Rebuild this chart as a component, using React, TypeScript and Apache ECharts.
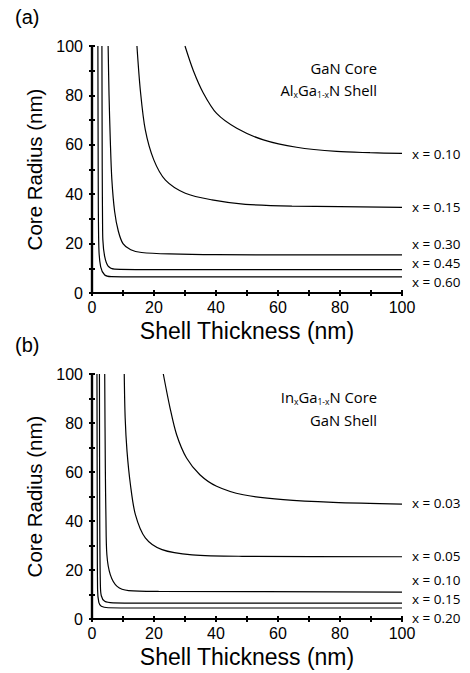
import React, { useEffect, useRef } from "react";
import * as echarts from "echarts";

// Panel (a): GaN core / AlxGa1-xN shell  [shell thickness (nm), core radius (nm)]
const a010 = [[30, 100], [32.7, 90], [35.9, 81], [40.2, 72.7], [46.7, 66.7], [55.3, 62], [66, 59], [78.9, 57.3], [89.7, 56.8], [100, 56.5]];
const a015 = [[14.5, 100], [15.6, 82], [17.2, 66], [19.9, 54], [23.7, 45.7], [30.1, 40.4], [38.7, 37.7], [49.5, 35.9], [64.5, 35.2], [100, 34.7]];
const a030 = [[5.2, 100], [5.5, 80], [5.9, 62], [6.4, 46], [7.3, 33], [8.5, 25], [10, 20], [12.5, 17.5], [16, 16.4], [25, 15.8], [40, 15.5], [100, 15.4]];
const a045 = [[3.2, 100], [3.3, 50], [3.4, 30], [3.5, 21.5], [4.1, 14.7], [5.2, 10.9], [7.3, 9.7], [17.5, 9.5], [100, 9.5]];
const a060 = [[1.9, 100], [2.0, 50], [2.2, 18.7], [2.8, 10.6], [4.1, 7.3], [6.2, 6.6], [15, 6.5], [100, 6.5]];

// Panel (b): InxGa1-xN core / GaN shell
const b003 = [[23, 100], [25.2, 86], [27.3, 75.2], [30.5, 65.7], [34.8, 58.9], [40.2, 54.2], [48.8, 50.7], [61.7, 48.7], [77.8, 47.6], [100, 46.9]];
const b005 = [[10.4, 100], [10.7, 82], [11.3, 68.4], [12.4, 54.8], [14, 42.6], [17.2, 33.1], [22.6, 28.3], [32.3, 26.2], [48.4, 25.6], [100, 25.4]];
const b010 = [[4.1, 100], [4.3, 61.6], [4.5, 41.2], [4.8, 26.2], [5.9, 18.1], [8.1, 13.3], [11.8, 11.6], [21.5, 11.3], [100, 11]];
const b015 = [[2.4, 100], [2.5, 40], [2.7, 14], [3.0, 9.5], [4.1, 7.2], [6.8, 6.6], [20, 6.5], [100, 6.5]];
const b020 = [[1.6, 100], [1.7, 40], [1.8, 12], [2.2, 6.8], [3, 5.2], [5.2, 4.6], [20, 4.5], [100, 4.5]];

const labelsA = ["x = 0.10", "x = 0.15", "x = 0.30", "x = 0.45", "x = 0.60"];
const labelsB = ["x = 0.03", "x = 0.05", "x = 0.10", "x = 0.15", "x = 0.20"];

const xTitle = "Shell Thickness (nm)";
const yTitle = "Core Radius (nm)";

export default function App() {
  const ref = useRef<HTMLDivElement>(null);
  useEffect(() => {
    if (!ref.current) return;
    const chart = echarts.init(ref.current, null, { renderer: "svg" });
    const axisFont = "Liberation Sans";
    const annFont = "Open Sans";
    const grids = [
      { left: 92, top: 46, width: 310, height: 247 },
      { left: 92, top: 374, width: 310, height: 245 },
    ];
    const tickStyle = {
      show: true,
      inside: true,
      length: 3,
      lineStyle: { color: "#000", width: 2 },
    };
    const minorStyle = {
      show: true,
      splitNumber: 2,
      length: 3,
      lineStyle: { color: "#000", width: 2 },
    };
    const mainX = (gi: number) => ({
      type: "value",
      gridIndex: gi,
      min: 0,
      max: 100,
      interval: 20,
      position: "bottom",
      name: xTitle,
      nameLocation: "middle",
      nameGap: 26,
      nameTextStyle: { fontFamily: axisFont, fontSize: 23, color: "#000" },
      axisLine: { show: true, lineStyle: { color: "#000", width: 2.2 } },
      axisTick: tickStyle,
      minorTick: minorStyle,
      axisLabel: { fontFamily: axisFont, fontSize: 16, color: "#000", margin: 6 },
      splitLine: { show: false },
    });
    const mainY = (gi: number) => ({
      type: "value",
      gridIndex: gi,
      min: 0,
      max: 100,
      interval: 20,
      position: "left",
      name: yTitle,
      nameLocation: "middle",
      nameGap: 33,
      nameTextStyle: { fontFamily: axisFont, fontSize: 20.5, color: "#000" },
      axisLine: { show: true, lineStyle: { color: "#000", width: 2.2 } },
      axisTick: tickStyle,
      minorTick: minorStyle,
      axisLabel: { fontFamily: axisFont, fontSize: 16, color: "#000", margin: 9 },
      splitLine: { show: false },
    });
    const sideAxis = (gi: number, pos: string) => ({
      type: "value",
      gridIndex: gi,
      min: 0,
      max: 100,
      interval: 20,
      position: pos,
      axisLine: { show: true, lineStyle: { color: "#000", width: 2.2 } },
      axisTick: tickStyle,
      minorTick: minorStyle,
      axisLabel: { show: false },
      splitLine: { show: false },
    });
    const mk = (data: number[][], xi: number, yi: number) => ({
      type: "line",
      xAxisIndex: xi,
      yAxisIndex: yi,
      data,
      showSymbol: false,
      symbol: "none",
      smooth: 0.3,
      clip: true,
      lineStyle: { color: "#000", width: 1.2 },
      silent: true,
    });
    const rLabel = (text: string, y: number) => ({
      type: "text",
      x: 412,
      y,
      style: {
        text,
        font: `13.5px "${annFont}"`,
        fill: "#000",
        textAlign: "left",
        textVerticalAlign: "middle",
      },
    });
    const yA = [154, 207, 244, 263, 282];
    const yB = [503, 556, 580, 599, 618];
    const rich = {
      n: { fontFamily: annFont, fontSize: 14.8, color: "#000", lineHeight: 18 },
      s: { fontFamily: annFont, fontSize: 8.5, color: "#000", verticalAlign: "bottom", lineHeight: 8 },
    };
    const ann = (text: string, y: number) => ({
      type: "text",
      x: 377,
      y,
      style: {
        text,
        rich,
        fill: "#000",
        textAlign: "right",
        textVerticalAlign: "middle",
      },
    });
    chart.setOption({
      animation: false,
      backgroundColor: "#fff",
      grid: grids,
      xAxis: [mainX(0), sideAxis(0, "top"), mainX(1), sideAxis(1, "top")],
      yAxis: [mainY(0), sideAxis(0, "right"), mainY(1), sideAxis(1, "right")],
      series: [
        mk(a010, 0, 0),
        mk(a015, 0, 0),
        mk(a030, 0, 0),
        mk(a045, 0, 0),
        mk(a060, 0, 0),
        mk(b003, 2, 2),
        mk(b005, 2, 2),
        mk(b010, 2, 2),
        mk(b015, 2, 2),
        mk(b020, 2, 2),
      ],
      graphic: [
        {
          type: "text",
          x: 15,
          y: 17,
          style: { text: "(a)", font: `20px "${axisFont}"`, fill: "#000", textVerticalAlign: "middle" },
        },
        {
          type: "text",
          x: 15,
          y: 345,
          style: { text: "(b)", font: `20px "${axisFont}"`, fill: "#000", textVerticalAlign: "middle" },
        },
        ...labelsA.map((t, i) => rLabel(t, yA[i])),
        ...labelsB.map((t, i) => rLabel(t, yB[i])),
        ann("{n|GaN Core}", 68),
        ann("{n|Al}{s|x}{n|Ga}{s|1-x}{n|N Shell}", 90),
        ann("{n|In}{s|x}{n|Ga}{s|1-x}{n|N Core}", 397),
        ann("{n|GaN Shell}", 420),
      ],
    });
    return () => chart.dispose();
  }, []);
  return (
    <div
      ref={ref}
      style={{ position: "absolute", left: 0, top: 0, width: 470, height: 673 }}
    />
  );
}
